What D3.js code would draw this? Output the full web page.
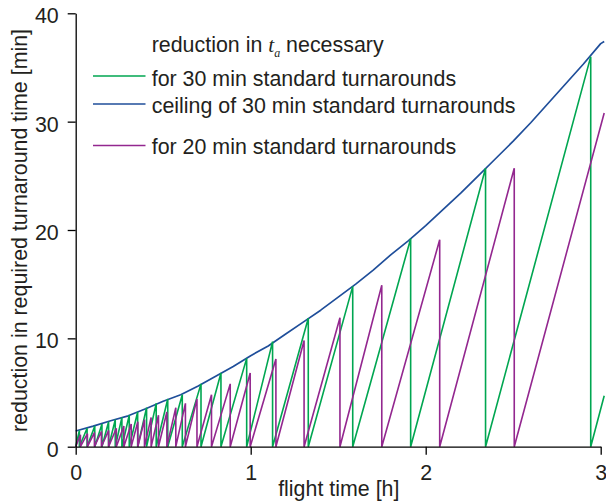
<!DOCTYPE html>
<html>
<head>
<meta charset="utf-8">
<script src="https://cdn.jsdelivr.net/npm/d3@7"></script>
<style>
  html, body { margin: 0; padding: 0; background: #fff; }
  svg { display: block; font-family: "Liberation Sans", Arial, Helvetica, sans-serif; }
</style>
</head>
<body>
<svg id="chart" width="606" height="501"></svg>
<script>
// Sawtooth for 30 min standard turnarounds: flight time [h] where each tooth drops
// back to zero, and the reduction [min] reached just before the drop.
const green30DropX = [0.021, 0.065, 0.109, 0.150, 0.188, 0.226, 0.264, 0.306, 0.354, 0.405,
                      0.460, 0.526, 0.609, 0.716, 0.830, 0.977, 1.125, 1.329, 1.583, 1.914,
                      2.342, 2.943];
const green30PeakY = [1.5, 1.7, 1.9, 2.1, 2.3, 2.5, 2.7, 2.9, 3.2, 3.6,
                      4.0, 4.4, 4.8, 5.8, 6.8, 8.15, 9.7, 11.85, 14.8, 19.2,
                      25.7, 36.0];
const green30End = [3.02, 4.7];

// Sawtooth for 20 min standard turnarounds
const magenta20DropX = [0.027, 0.067, 0.107, 0.147, 0.188, 0.232, 0.275, 0.317, 0.355, 0.393,
                        0.431, 0.473, 0.521, 0.572, 0.627, 0.693, 0.776, 0.883, 0.997, 1.144,
                        1.305, 1.510, 1.749, 2.080, 2.506];
const magenta20PeakY = [1.1, 1.2, 1.3, 1.4, 1.5, 1.7, 1.9, 2.1, 2.3, 2.5,
                        2.7, 2.9, 3.2, 3.6, 4.0, 4.4, 4.8, 5.8, 6.8, 8.1,
                        9.8, 11.9, 14.9, 19.1, 25.7];
const magenta20End = [3.02, 30.8];

// Ceiling of the 30 min sawtooth
const ceilingX = [0, 0.1, 0.2, 0.3, 0.4, 0.5, 0.6, 0.7, 0.8, 0.9, 1.0, 1.1, 1.2, 1.3, 1.4, 1.5,
                  1.6, 1.7, 1.8, 1.9, 2.0, 2.1, 2.2, 2.3, 2.4, 2.5, 2.6, 2.7, 2.8, 2.9, 3.0, 3.02];
const ceilingY = [1.45, 1.9, 2.4, 2.85, 3.5, 4.2, 4.8, 5.6, 6.5, 7.4, 8.4, 9.3, 10.4, 11.5, 12.6, 13.8,
                  15.0, 16.3, 17.7, 19.0, 20.4, 21.9, 23.4, 25.0, 26.6, 28.2, 29.9, 31.7, 33.5, 35.3, 37.2, 37.4];

const xTicks = [0, 1, 2, 3];
const yTicks = [0, 10, 20, 30, 40];

const xTitle = "flight time [h]";
const yTitle = "reduction in required turnaround time [min]";

const legendTitle = ["reduction in ", "t", "a", " necessary"];
const legendLabels = ["for 30 min standard turnarounds",
                      "ceiling of 30 min standard turnarounds",
                      "for 20 min standard turnarounds"];

const colors = { green: "#00a651", blue: "#1f4e9a", magenta: "#93278f", text: "#231f20" };

const svg = d3.select("#chart");
const x = d3.scaleLinear().domain([0, 3]).range([75.7, 600.7]);
const y = d3.scaleLinear().domain([0, 40]).range([446.7, 13.3]);

// turn drop positions + peaks into a sawtooth polyline
function sawtooth(dropX, peakY, end) {
  const pts = [[0, 0]];
  dropX.forEach((dx, i) => { pts.push([dx, peakY[i]]); pts.push([dx, 0]); });
  pts.push(end);
  return pts;
}

const line = d3.line().x(d => x(d[0])).y(d => y(d[1]));

const plot = svg.append("g");
plot.append("path")
  .attr("d", line(ceilingX.map((v, i) => [v, ceilingY[i]])))
  .attr("fill", "none").attr("stroke", colors.blue).attr("stroke-width", 1.7)
  .attr("stroke-linejoin", "round");
plot.append("path")
  .attr("d", line(sawtooth(green30DropX, green30PeakY, green30End)))
  .attr("fill", "none").attr("stroke", colors.green).attr("stroke-width", 1.6);
plot.append("path")
  .attr("d", line(sawtooth(magenta20DropX, magenta20PeakY, magenta20End)))
  .attr("fill", "none").attr("stroke", colors.magenta).attr("stroke-width", 1.6);

// axes
const fontSize = 21.4;
const gx = svg.append("g").attr("transform", `translate(0,${y(0)})`)
  .call(d3.axisBottom(x).tickValues(xTicks).tickFormat(d3.format("d"))
    .tickSize(8).tickSizeOuter(0).tickPadding(10));
const gy = svg.append("g").attr("transform", `translate(${x(0)},0)`)
  .call(d3.axisLeft(y).tickValues(yTicks).tickFormat(d3.format("d"))
    .tickSize(8).tickSizeOuter(0).tickPadding(9));
[gx, gy].forEach(g => {
  g.selectAll("path.domain").attr("stroke", "#000").attr("stroke-width", 1.3);
  g.selectAll(".tick line").attr("stroke", "#000").attr("stroke-width", 1.3);
  g.selectAll(".tick text").attr("fill", colors.text)
    .style("font-size", fontSize + "px").style("font-family", "Liberation Sans, Arial, sans-serif");
});
gy.selectAll(".tick text").attr("dy", "0.45em");

svg.append("text")
  .attr("x", 338.8).attr("y", 495.5).attr("text-anchor", "middle")
  .attr("fill", colors.text).style("font-size", fontSize + "px").text(xTitle);
svg.append("text")
  .attr("transform", "translate(26.5,230.5) rotate(-90)").attr("text-anchor", "middle")
  .attr("fill", colors.text).style("font-size", fontSize + "px").text(yTitle);

// legend
const lg = svg.append("g");
const title = lg.append("text").attr("x", 151.7).attr("y", 52)
  .attr("fill", colors.text).style("font-size", fontSize + "px");
title.append("tspan").text(legendTitle[0]);
title.append("tspan").style("font-family", "Liberation Serif, Times New Roman, serif")
  .style("font-style", "italic").text(legendTitle[1]);
title.append("tspan").style("font-family", "Liberation Serif, Times New Roman, serif")
  .style("font-style", "italic").style("font-size", "12px").attr("dy", 5).text(legendTitle[2]);
title.append("tspan").attr("dy", -5).text(legendTitle[3]);

const legendRows = [
  { label: legendLabels[0], color: colors.green, lineY: 76, textY: 85.5 },
  { label: legendLabels[1], color: colors.blue, lineY: 104, textY: 112.5 },
  { label: legendLabels[2], color: colors.magenta, lineY: 145.5, textY: 153.5 }
];
legendRows.forEach(r => {
  lg.append("line").attr("x1", 93).attr("x2", 145.5).attr("y1", r.lineY).attr("y2", r.lineY)
    .attr("stroke", r.color).attr("stroke-width", 1.3);
  lg.append("text").attr("x", 151.7).attr("y", r.textY).attr("fill", colors.text)
    .style("font-size", fontSize + "px").text(r.label);
});
</script>
</body>
</html>
